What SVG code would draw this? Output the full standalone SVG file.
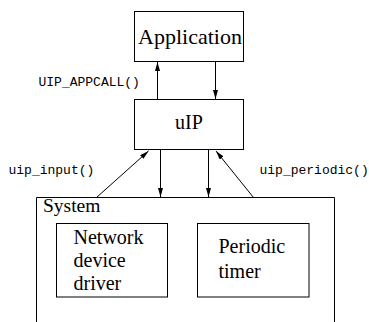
<svg xmlns="http://www.w3.org/2000/svg" width="369" height="322" viewBox="0 0 369 322">
  <style>
    .box { fill: #fff; stroke: #000; stroke-width: 1; }
    .lbl { font-family: "Liberation Serif", "Times New Roman", serif; font-size: 20px; fill: #000; }
    .code { font-family: "Liberation Mono", "Courier New", monospace; font-size: 13px; fill: #000; }
    .wire { stroke: #000; stroke-width: 1; fill: none; marker-end: url(#head); }
  </style>
  <defs>
    <marker id="head" viewBox="0 0 9 5" refX="9" refY="2.5" markerWidth="9" markerHeight="5" markerUnits="userSpaceOnUse" orient="auto">
      <path d="M0,0 L9,2.5 L0,5 Z" fill="#000"/>
    </marker>
  </defs>
  <rect width="369" height="322" fill="#fff"/>

  <g id="application">
    <rect class="box" x="134.5" y="11.5" width="109" height="50"/>
    <text class="lbl" x="190" y="44" text-anchor="middle" style="font-size:22px">Application</text>
  </g>

  <g id="uip">
    <rect class="box" x="134.5" y="99.5" width="109" height="50"/>
    <text class="lbl" x="189" y="128.5" text-anchor="middle">uIP</text>
  </g>

  <g id="system">
    <path class="box" d="M36.5,323 V197.5 H334.5 V323" />
    <text class="lbl" x="43" y="211.5" style="font-size:19.5px">System</text>
  </g>

  <g id="network-driver">
    <rect class="box" x="56.5" y="223.5" width="111" height="73.5"/>
    <text class="lbl" x="73.5" y="244">Network</text>
    <text class="lbl" x="73.5" y="267">device</text>
    <text class="lbl" x="73.5" y="289.5">driver</text>
  </g>

  <g id="periodic-timer">
    <rect class="box" x="197.5" y="223.5" width="111.5" height="73.5"/>
    <text class="lbl" x="218.5" y="253">Periodic</text>
    <text class="lbl" x="218.5" y="277.5">timer</text>
  </g>

  <g id="connectors">
    <line class="wire" x1="157.5" y1="99.5" x2="157.5" y2="62"/>
    <line class="wire" x1="215.5" y1="61.5" x2="215.5" y2="99"/>
    <line class="wire" x1="96.5" y1="197.5" x2="148.5" y2="151"/>
    <line class="wire" x1="160.5" y1="149.5" x2="160.5" y2="197"/>
    <line class="wire" x1="208.5" y1="149.5" x2="208.5" y2="197"/>
    <line class="wire" x1="253.5" y1="197.5" x2="216" y2="151"/>
    <text class="code" x="38.5" y="86">UIP_APPCALL()</text>
    <text class="code" x="8.5" y="174">uip_input()</text>
    <text class="code" x="259.5" y="174">uip_periodic()</text>
  </g>
</svg>
